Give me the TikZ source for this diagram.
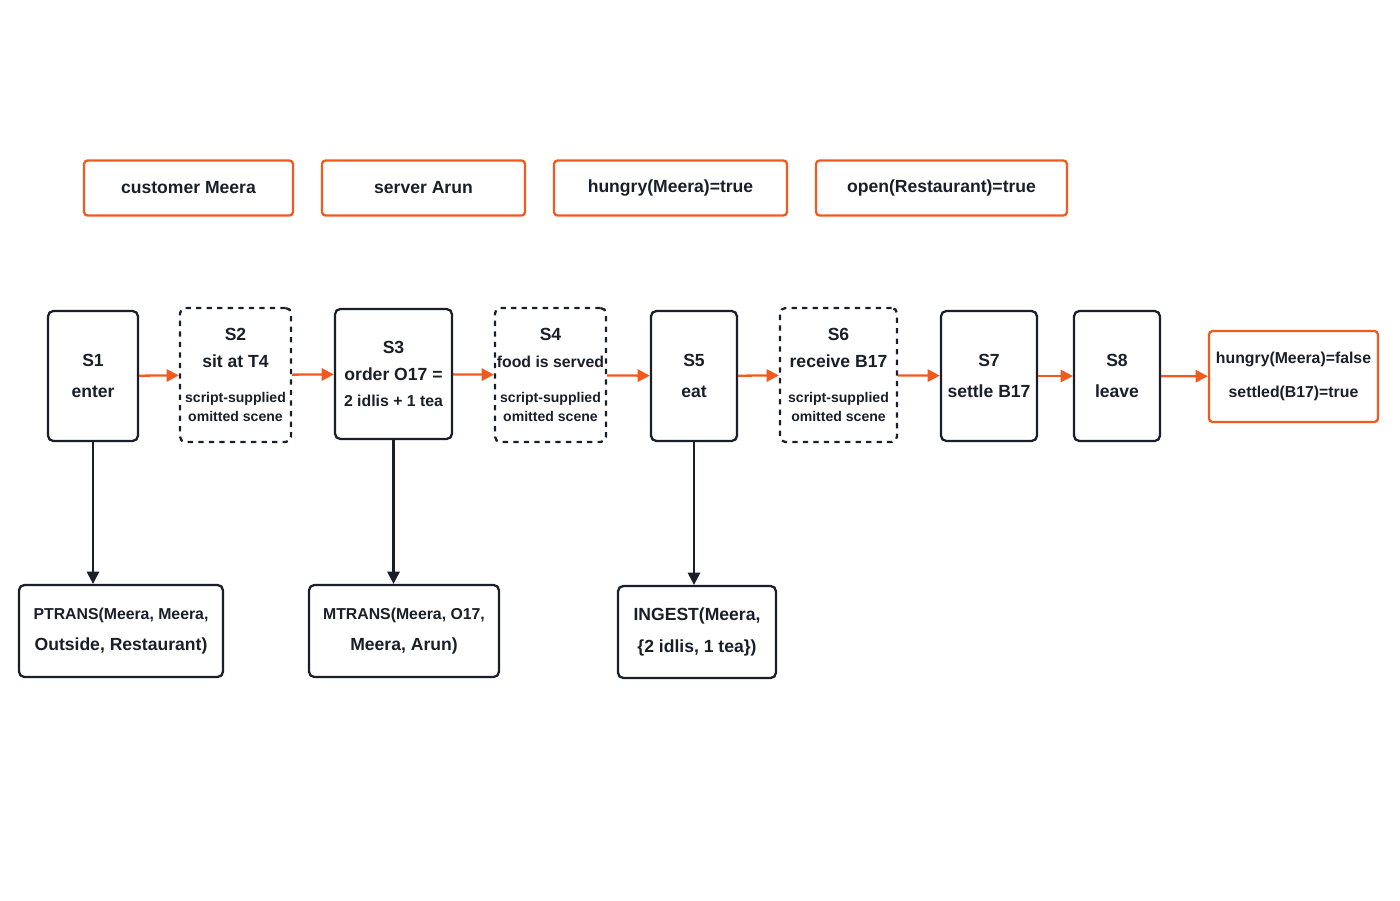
\documentclass[tikz,border=0pt]{standalone}
\usepackage{fontspec}
\setmainfont{Liberation Sans}
\usetikzlibrary{arrows.meta,positioning}
\definecolor{org}{RGB}{240,90,30}
\definecolor{ink}{RGB}{25,30,40}
\begin{document}
\begin{tikzpicture}[x=0.02cm,y=-0.02cm,
  fact/.style={draw=org,line width=1.3pt,rounded corners=2pt,align=center,font=\normalsize\bfseries,text=ink,inner sep=1pt},
  scn/.style={draw=ink,line width=1.3pt,rounded corners=3pt,align=center,font=\normalsize\bfseries,text=ink,inner sep=1pt},
  omit/.style={scn,dashed},
  act/.style={draw=ink,line width=1.3pt,rounded corners=3pt,align=center,font=\normalsize\bfseries,text=ink,inner sep=1pt,minimum height=1.84cm},
  nxt/.style={-{Triangle[length=7pt,width=7pt]},draw=org,line width=1.3pt},
  dn/.style={-{Triangle[length=7pt,width=7pt]},draw=ink,line width=1.3pt}]
\useasboundingbox (0,0) rectangle (1400,900);
% roles and entry conditions
\node[fact,minimum width=4.18cm,minimum height=1.1cm] (cust) at (188.5,188) {customer Meera};
\node[fact,minimum width=4.06cm,minimum height=1.1cm] (serv) at (423.5,188) {server Arun};
\node[fact,minimum width=4.66cm,minimum height=1.1cm] (hung) at (670.5,188) {hungry(Meera)=true};
\node[fact,minimum width=5.02cm,minimum height=1.1cm] (open) at (941.5,188) {open(Restaurant)=true};
% scenes
\node[scn,minimum width=1.8cm,minimum height=2.6cm] (s1) at (93,376) {S1\\[6pt]enter};
\node[omit,minimum width=2.22cm,minimum height=2.68cm] (s2) at (235.5,375) {S2\\[3pt]sit at T4\\[8pt]{\footnotesize script-supplied}\\[-1pt]{\footnotesize omitted scene}};
\node[scn,minimum width=2.34cm,minimum height=2.6cm] (s3) at (393.5,374) {S3\\[3pt]order O17 =\\[3pt]{\small 2 idlis + 1 tea}};
\node[omit,minimum width=2.22cm,minimum height=2.68cm] (s4) at (550.5,375) {S4\\[3pt]{\small food is served}\\[8pt]{\footnotesize script-supplied}\\[-1pt]{\footnotesize omitted scene}};
\node[scn,minimum width=1.72cm,minimum height=2.6cm] (s5) at (694,376) {S5\\[6pt]eat};
\node[omit,minimum width=2.34cm,minimum height=2.68cm] (s6) at (838.5,375) {S6\\[3pt]receive B17\\[8pt]{\footnotesize script-supplied}\\[-1pt]{\footnotesize omitted scene}};
\node[scn,minimum width=1.92cm,minimum height=2.6cm] (s7) at (989,376) {S7\\[6pt]settle B17};
\node[scn,minimum width=1.72cm,minimum height=2.6cm] (s8) at (1117,376) {S8\\[6pt]leave};
\node[fact,minimum width=3.38cm,minimum height=1.82cm,font=\small\bfseries] (res) at (1293.5,376.5) {hungry(Meera)=false\\[8pt]settled(B17)=true};
% primitive acts
\node[act,minimum width=4.08cm] (pt) at (121,631) {{\small PTRANS(Meera, Meera,}\\[6pt]Outside, Restaurant)};
\node[act,minimum width=3.8cm] (mt) at (404,631) {{\small MTRANS(Meera, O17,}\\[6pt]Meera, Arun)};
\node[act,minimum width=3.16cm] (ig) at (697,632) {INGEST(Meera,\\[6pt]\{2 idlis, 1 tea\})};
\foreach \a/\b in {s1/s2,s2/s3,s3/s4,s4/s5,s5/s6,s6/s7,s7/s8,s8/res}
  \draw[nxt] (\a) -- (\b);
\draw[dn] (s1.south) -- (s1.south |- pt.north);
\draw[dn] (s3.south) -- (s3.south |- mt.north);
\draw[dn] (s5.south) -- (s5.south |- ig.north);
\end{tikzpicture}
\end{document}
